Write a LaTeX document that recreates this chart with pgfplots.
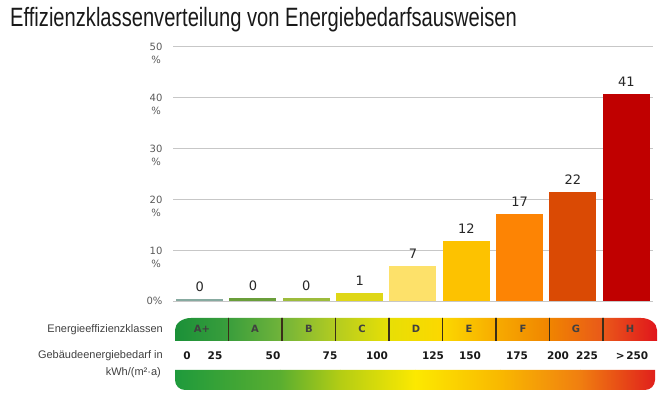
\documentclass[border=0pt]{standalone}
\usepackage{fontspec}
\setmainfont{Liberation Sans}
\newfontfamily\titlefont[FakeStretch=0.76]{Liberation Sans}
\newfontfamily\dvs{DejaVu Sans}
\usepackage{pgfplots}
\pgfplotsset{compat=1.18}
% bar colours
\definecolor{bAp}{HTML}{87AAA0}
\definecolor{bA}{HTML}{6A9E3A}
\definecolor{bB}{HTML}{9DBC3C}
\definecolor{bC}{HTML}{DFD716}
\definecolor{bD}{HTML}{FDE16A}
\definecolor{bE}{HTML}{FDC200}
\definecolor{bF}{HTML}{FD8404}
\definecolor{bG}{HTML}{DA4A04}
\definecolor{bH}{HTML}{C00000}
% strip boundary colours
\definecolor{s0}{HTML}{1A9038}
\definecolor{s1}{HTML}{3A9E3C}
\definecolor{s2}{HTML}{72B43A}
\definecolor{s3}{HTML}{B4CC20}
\definecolor{s4}{HTML}{E8DF05}
\definecolor{s5}{HTML}{FCD800}
\definecolor{s6}{HTML}{F7AB00}
\definecolor{s7}{HTML}{F08400}
\definecolor{s8}{HTML}{E9581A}
\definecolor{s9}{HTML}{E0141C}
% bottom bar colours
\definecolor{g0}{HTML}{1E9A3C}
\definecolor{g1}{HTML}{5AAE30}
\definecolor{g2}{HTML}{B4CD14}
\definecolor{g3}{HTML}{FCE900}
\definecolor{g4}{HTML}{F9B800}
\definecolor{g5}{HTML}{F07E10}
\definecolor{g6}{HTML}{E01F1C}
\definecolor{sep}{HTML}{3A2E18}
\begin{document}
\begin{tikzpicture}
\useasboundingbox (0,0) rectangle (665pt,398pt);
\node[anchor=base west, inner sep=0pt, font=\titlefont\fontsize{26.5}{30}\selectfont, text=black!90] at (10pt,371pt) {Effizienzklassenverteilung von Energiebedarfsausweisen};
\begin{axis}[
  at={(173pt,97pt)}, anchor=south west,
  scale only axis, width=480pt, height=254.5pt,
  xmin=-0.5, xmax=8.5, ymin=0, ymax=50,
  xtick=\empty,
  ytick={0,10,20,30,40,50},
  yticklabels={0\%\\\phantom{\%}, 10\\\%, 20\\\%, 30\\\%, 40\\\%, 50\\\%},
  yticklabel style={font=\dvs\fontsize{10}{13.3}\selectfont, text=black!65, align=center, anchor=north east, yshift=7pt, xshift=-7pt},
  ymajorgrids, grid style={black!22, line width=0.8pt},
  axis line style={draw=none},
  major tick length=0pt,
  clip=false,
  ybar, bar width=47pt,
  nodes near coords, point meta=explicit symbolic,
  every node near coord/.append style={font=\dvs\fontsize{13}{15}\selectfont, text=black!85, yshift=4pt},
]
\addplot[fill=bAp, draw=none, bar shift=0pt] coordinates {(0,0.3) [0]};
\addplot[fill=bA, draw=none, bar shift=0pt] coordinates {(1,0.6) [0]};
\addplot[fill=bB, draw=none, bar shift=0pt] coordinates {(2,0.5) [0]};
\addplot[fill=bC, draw=none, bar shift=0pt] coordinates {(3,1.6) [1]};
\addplot[fill=bD, draw=none, bar shift=0pt] coordinates {(4,6.9) [7]};
\addplot[fill=bE, draw=none, bar shift=0pt] coordinates {(5,11.7) [12]};
\addplot[fill=bF, draw=none, bar shift=0pt] coordinates {(6,17.1) [17]};
\addplot[fill=bG, draw=none, bar shift=0pt] coordinates {(7,21.5) [22]};
\addplot[fill=bH, draw=none, bar shift=0pt] coordinates {(8,40.6) [41]};
\end{axis}
% class strip
\begin{scope}
\clip (175pt,57pt) -- (175pt,68pt) arc[start angle=180, end angle=90, x radius=16pt, y radius=12pt] -- (641pt,80pt) arc[start angle=90, end angle=0, x radius=16pt, y radius=12pt] -- (657pt,57pt) -- cycle;
\shade[left color=s0, right color=s1] (174pt,56pt) rectangle (228.8pt,81pt);
\shade[left color=s1, right color=s2] (228.5pt,56pt) rectangle (282.3pt,81pt);
\shade[left color=s2, right color=s3] (282pt,56pt) rectangle (335.8pt,81pt);
\shade[left color=s3, right color=s4] (335.5pt,56pt) rectangle (389.3pt,81pt);
\shade[left color=s4, right color=s5] (389pt,56pt) rectangle (442.8pt,81pt);
\shade[left color=s5, right color=s6] (442.5pt,56pt) rectangle (496.3pt,81pt);
\shade[left color=s6, right color=s7] (496pt,56pt) rectangle (549.8pt,81pt);
\shade[left color=s7, right color=s8] (549.5pt,56pt) rectangle (603.3pt,81pt);
\shade[left color=s8, right color=s9] (603pt,56pt) rectangle (658pt,81pt);
\foreach \x in {228.5,282,335.5,389,442.5,496,549.5,603} {\draw[sep, line width=1.4pt] (\x pt,56pt) -- (\x pt,81pt);}
\end{scope}
\foreach \x/\t in {202/A+,255/A,309/B,362/C,416/D,469/E,523/F,576/G,630/H} {\node[font=\dvs\bfseries\fontsize{10}{12}\selectfont, text=black!75] at (\x pt,69.5pt) {\t};}
% numbers row
\foreach \x/\t in {187/0,215/25,273/50,330/75,377/100,433/125,470/150,517/175,558/200,587/225,632/{>\,250}} {\node[font=\dvs\bfseries\fontsize{10.5}{12}\selectfont, text=black!90] at (\x pt,42pt) {\t};}
% bottom gradient bar
\begin{scope}
\clip (175pt,28pt) -- (175pt,18pt) arc[start angle=180, end angle=270, radius=10pt] -- (645pt,8pt) arc[start angle=270, end angle=360, radius=10pt] -- (655pt,28pt) -- cycle;
\shade[left color=g0, right color=g1] (174pt,7pt) rectangle (280.5pt,29pt);
\shade[left color=g1, right color=g2] (280pt,7pt) rectangle (340.5pt,29pt);
\shade[left color=g2, right color=g3] (340pt,7pt) rectangle (415.5pt,29pt);
\shade[left color=g3, right color=g4] (415pt,7pt) rectangle (500.5pt,29pt);
\shade[left color=g4, right color=g5] (500pt,7pt) rectangle (580.5pt,29pt);
\shade[left color=g5, right color=g6] (580pt,7pt) rectangle (656pt,29pt);
\end{scope}
% left labels
\node[anchor=east, inner sep=0pt, font=\fontsize{11}{13}\selectfont, text=black!75] at (163pt,68pt) {Energieeffizienzklassen};
\node[anchor=east, inner sep=0pt, font=\fontsize{11}{13}\selectfont, text=black!75] at (163pt,42pt) {Gebäudeenergiebedarf in};
\node[anchor=east, inner sep=0pt, font=\fontsize{11}{13}\selectfont, text=black!75] at (161pt,25pt) {kWh/(m²·a)};
\end{tikzpicture}
\end{document}
